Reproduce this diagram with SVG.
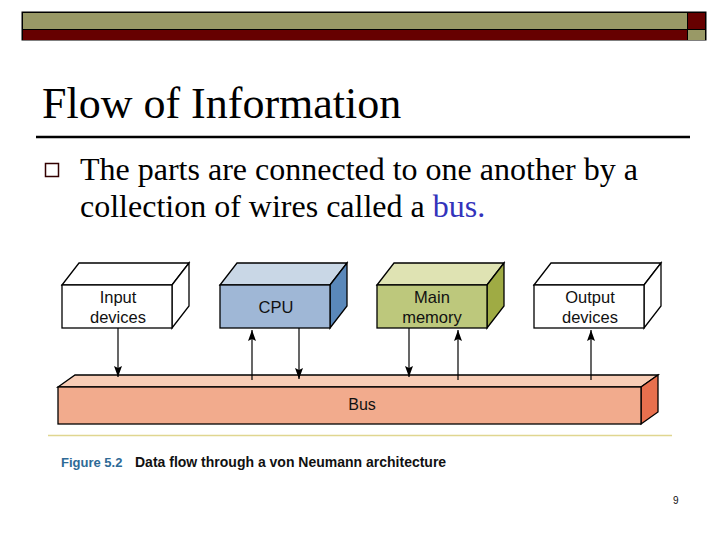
<svg xmlns="http://www.w3.org/2000/svg" width="720" height="540" viewBox="0 0 720 540">
<style>
.serif{font-family:"Liberation Serif","Times New Roman",serif;fill:#000}
.sans{font-family:"Liberation Sans",Arial,sans-serif;fill:#111}
.lbl{font-size:16.5px;text-anchor:middle}
.edge{stroke:#000;stroke-width:1.3}
.wire{stroke:#000;stroke-width:1.2;fill:none}
</style>
<defs>
<marker id="ah" viewBox="0 0 11 8" refX="11" refY="4" markerWidth="11" markerHeight="8" markerUnits="userSpaceOnUse" orient="auto">
<path d="M0,0 L11,4 L0,8 L2,4 Z" fill="#000"/>
</marker>
</defs>
<rect width="720" height="540" fill="#fff"/>
<g id="topbar">
<rect x="21.5" y="11.5" width="685" height="29" fill="#000"/>
<rect x="23" y="13" width="664" height="16" fill="#999966"/>
<rect x="23" y="30" width="664" height="10" fill="#660000"/>
<rect x="688" y="13" width="17" height="16" fill="#660000"/>
<rect x="688" y="30" width="17" height="10" fill="#999966"/>
</g>
<text class="serif" x="42" y="118" font-size="44">Flow of Information</text>
<line x1="36" y1="137" x2="690" y2="137" stroke="#000" stroke-width="2.5"/>
<rect x="45.5" y="163.5" width="13" height="13" fill="none" stroke="#330000" stroke-width="1.5"/>
<text class="serif" x="80" y="180" font-size="32">The parts are connected to one another by a</text>
<text class="serif" x="80" y="217" font-size="32">collection of wires called a <tspan fill="#3333bb">bus.</tspan></text>

<g id="bus">
<polygon points="58,387 75,375 658,375 641,387" fill="#f8cdb6" class="edge"/>
<polygon points="641,387 658,375 658,412 641,424" fill="#e8704e" class="edge"/>
<rect x="58" y="387" width="583" height="37" fill="#f2ab8d" class="edge"/>
<text class="sans" x="362" y="410" font-size="16" text-anchor="middle">Bus</text>
</g>
<line x1="48" y1="435.5" x2="672" y2="435.5" stroke="#e0d690" stroke-width="1.5"/>

<g id="input">
<polygon points="62,285 79,263 189,263 172,285" fill="#fff" class="edge"/>
<polygon points="172,285 189,263 189,306 172,328" fill="#fff" class="edge"/>
<rect x="62" y="285" width="110" height="43" fill="#fff" class="edge"/>
<text class="sans lbl" x="118" y="303">Input</text>
<text class="sans lbl" x="118" y="323">devices</text>
</g>
<g id="cpu">
<polygon points="220,285 237,263 347,263 330,285" fill="#c9d7e6" class="edge"/>
<polygon points="330,285 347,263 347,306 330,328" fill="#5a88ba" class="edge"/>
<rect x="220" y="285" width="110" height="43" fill="#9fb7d6" class="edge"/>
<text class="sans lbl" x="276" y="313">CPU</text>
</g>
<g id="memory">
<polygon points="377,285 394,263 504,263 487,285" fill="#dfe3b3" class="edge"/>
<polygon points="487,285 504,263 504,306 487,328" fill="#9fab44" class="edge"/>
<rect x="377" y="285" width="110" height="43" fill="#bdc87c" class="edge"/>
<text class="sans lbl" x="432" y="303">Main</text>
<text class="sans lbl" x="432" y="323">memory</text>
</g>
<g id="output">
<polygon points="534,285 551,263 661,263 644,285" fill="#fff" class="edge"/>
<polygon points="644,285 661,263 661,306 644,328" fill="#fff" class="edge"/>
<rect x="534" y="285" width="110" height="43" fill="#fff" class="edge"/>
<text class="sans lbl" x="590" y="303">Output</text>
<text class="sans lbl" x="590" y="323">devices</text>
</g>

<g id="connectors">
<line class="wire" x1="118" y1="328" x2="118" y2="377" marker-end="url(#ah)"/>
<line class="wire" x1="252" y1="380" x2="252" y2="330" marker-end="url(#ah)"/>
<line class="wire" x1="299" y1="328" x2="299" y2="379" marker-end="url(#ah)"/>
<line class="wire" x1="409" y1="328" x2="409" y2="377" marker-end="url(#ah)"/>
<line class="wire" x1="458" y1="380" x2="458" y2="330" marker-end="url(#ah)"/>
<line class="wire" x1="591" y1="380" x2="591" y2="330" marker-end="url(#ah)"/>
</g>

<text class="sans" x="61" y="467" font-size="14" font-weight="bold"><tspan fill="#2e6a96" font-size="13">Figure 5.2</tspan><tspan x="135">Data flow through a von Neumann architecture</tspan></text>
<text class="sans" x="673" y="504" font-size="10" fill="#000">9</text>
</svg>
